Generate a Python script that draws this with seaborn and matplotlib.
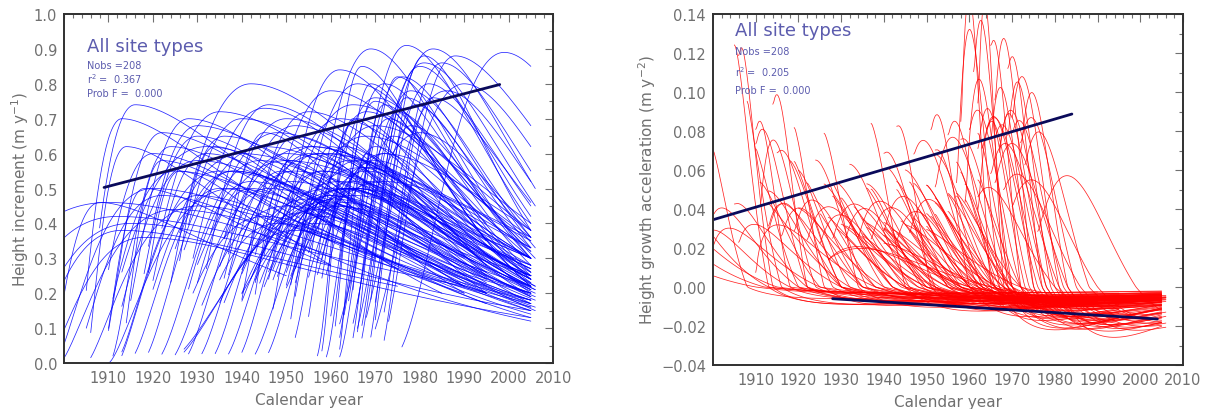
import numpy as np
import pandas as pd
import seaborn as sns
from matplotlib import pyplot as plt
from matplotlib.ticker import MultipleLocator

# per-tree fitted height-increment curves:
# origin year, year and size of the peak, rise shape, first/last drawn year, increment at last year
origin = [1880, 1886, 1890, 1893, 1896, 1897, 1898, 1899,
          1903, 1904, 1905, 1906, 1907, 1908, 1909, 1910, 1911, 1912, 1913, 1914, 1902, 1905, 1910,
          1908, 1912, 1907,
          1913, 1914, 1915, 1917, 1917, 1918, 1919, 1920, 1921, 1922, 1923, 1924, 1925, 1926, 1927,
          1928, 1929, 1930, 1931, 1923, 1922, 1929, 1933, 1915, 1921, 1932,
          1935, 1936, 1938, 1938, 1940, 1941, 1942, 1943, 1944, 1945, 1946, 1947, 1948, 1949, 1950,
          1951, 1952, 1953, 1937, 1942, 1948, 1939,
          1956, 1957, 1958, 1959, 1960, 1960, 1961, 1962, 1962, 1963, 1964, 1965, 1966, 1967, 1968,
          1969, 1970, 1972, 1958, 1963, 1965, 1961, 1957, 1959, 1962, 1964, 1966, 1967, 1961,
          1922, 1925, 1927, 1930, 1932, 1934, 1935, 1937, 1938, 1940, 1942, 1943, 1945, 1947, 1949,
          1951, 1953, 1955, 1928, 1933, 1939, 1944, 1950, 1924, 1931, 1936, 1941, 1946, 1952, 1957,
          1914, 1917, 1920, 1923, 1926, 1929, 1932, 1935, 1938, 1941, 1944, 1911]
peak_year = [1910, 1912, 1915, 1913, 1918, 1908, 1920, 1925,
             1913, 1916, 1914, 1920, 1925, 1922, 1930, 1924, 1928, 1935, 1930, 1940, 1922, 1930, 1938,
             1918, 1922, 1932,
             1930, 1935, 1932, 1942, 1938, 1945, 1936, 1940, 1950, 1945, 1942, 1948, 1955, 1946, 1952,
             1950, 1958, 1952, 1960, 1960, 1965, 1965, 1962, 1926, 1934, 1945,
             1955, 1952, 1960, 1957, 1962, 1958, 1965, 1962, 1968, 1964, 1966, 1970, 1963, 1969, 1968,
             1972, 1966, 1970, 1967, 1972, 1960, 1951,
             1967, 1972, 1970, 1977, 1973, 1976, 1974, 1978, 1983, 1975, 1980, 1978, 1982, 1979, 1985,
             1988, 1983, 1999, 1980, 1986, 1990, 1968, 1965, 1969, 1972, 1975, 1977, 1981, 1981,
             1945, 1950, 1948, 1955, 1953, 1958, 1956, 1960, 1958, 1963, 1962, 1965, 1963, 1968, 1966,
             1970, 1969, 1972, 1952, 1957, 1961, 1966, 1969, 1942, 1949, 1955, 1960, 1964, 1967, 1970,
             1935, 1938, 1944, 1946, 1950, 1951, 1956, 1958, 1960, 1963, 1966, 1930]
peak_inc = [0.46, 0.42, 0.40, 0.38, 0.36, 0.46, 0.50, 0.44,
            0.70, 0.74, 0.62, 0.60, 0.55, 0.66, 0.58, 0.62, 0.70, 0.55, 0.65, 0.60, 0.48, 0.45, 0.50,
            0.50, 0.58, 0.62,
            0.68, 0.72, 0.60, 0.80, 0.55, 0.62, 0.65, 0.70, 0.58, 0.73, 0.52, 0.66, 0.62, 0.74, 0.55,
            0.70, 0.60, 0.68, 0.50, 0.45, 0.50, 0.48, 0.52, 0.55, 0.62, 0.66,
            0.72, 0.65, 0.78, 0.60, 0.70, 0.55, 0.74, 0.84, 0.65, 0.58, 0.80, 0.68, 0.62, 0.90, 0.72,
            0.60, 0.70, 0.76, 0.56, 0.52, 0.62, 0.58,
            0.85, 0.80, 0.75, 0.91, 0.70, 0.82, 0.65, 0.78, 0.90, 0.72, 0.85, 0.68, 0.80, 0.74, 0.86,
            0.88, 0.76, 0.89, 0.66, 0.78, 0.80, 0.60, 0.70, 0.80, 0.74, 0.82, 0.76, 0.88, 0.86,
            0.42, 0.45, 0.40, 0.47, 0.43, 0.46, 0.40, 0.48, 0.42, 0.50, 0.45, 0.52, 0.46, 0.55, 0.50,
            0.58, 0.52, 0.60, 0.38, 0.44, 0.47, 0.50, 0.56, 0.50, 0.55, 0.60, 0.48, 0.50, 0.56, 0.62,
            0.50, 0.55, 0.58, 0.50, 0.60, 0.52, 0.62, 0.55, 0.60, 0.50, 0.58, 0.48]
rise_k = [0.8, 1.0, 1.2, 1.2, 1.5, 1.5, 1.5, 1.5,
          1.5, 1.5, 1.5, 1.5, 1.5, 1.8, 1.5, 2.0, 2.0, 1.5, 1.8, 1.5, 1.5, 1.5, 1.5,
          2.0, 2.0, 1.3,
          1.8, 1.8, 1.8, 2.0, 1.5, 1.5, 2.0, 1.8, 1.5, 1.8, 1.5, 1.6, 1.5, 2.0, 1.5,
          1.8, 1.5, 1.8, 1.3, 2.0, 2.0, 1.8, 1.6, 2.0, 2.2, 2.2,
          1.8, 2.0, 2.0, 1.6, 1.8, 1.6, 1.8, 2.2, 1.6, 1.6, 2.0, 1.8, 2.0, 2.4, 2.0,
          1.6, 2.2, 2.2, 1.6, 1.5, 2.5, 2.5,
          2.5, 2.2, 2.4, 2.6, 2.2, 2.4, 2.2, 2.4, 2.6, 2.4, 2.4, 2.2, 2.4, 2.4, 2.6,
          2.6, 2.4, 2.8, 2.0, 2.4, 2.6, 2.5, 2.5, 2.5, 2.5, 2.5, 2.5, 2.6, 2.5,
          1.5, 1.5, 1.5, 1.5, 1.5, 1.5, 1.5, 1.5, 1.5, 1.5, 1.5, 1.5, 1.6, 1.6, 1.8,
          1.8, 2.0, 2.0, 1.5, 1.5, 1.5, 1.5, 1.8, 1.8, 1.8, 1.8, 1.8, 1.8, 2.0, 2.2,
          2.0, 2.0, 2.0, 2.0, 2.0, 2.0, 2.0, 2.0, 2.0, 2.0, 2.0, 2.0]
first_year = [1900, 1900, 1900, 1900, 1900, 1900, 1900, 1900,
              1905, 1908, 1906, 1910, 1911, 1910, 1913, 1911, 1915, 1913, 1918, 1920, 1905, 1906, 1910,
              1910, 1914, 1913,
              1919, 1922, 1920, 1926, 1925, 1927, 1924, 1928, 1930, 1929, 1928, 1933, 1936, 1932, 1935,
              1936, 1940, 1936, 1940, 1927, 1927, 1940, 1942, 1919, 1926, 1937,
              1941, 1940, 1945, 1943, 1947, 1946, 1950, 1947, 1952, 1950, 1951, 1955, 1952, 1952, 1957,
              1957, 1955, 1958, 1945, 1950, 1951, 1943,
              1957, 1960, 1959, 1963, 1962, 1964, 1962, 1966, 1966, 1965, 1967, 1967, 1970, 1969, 1972,
              1973, 1972, 1976, 1962, 1968, 1970, 1962, 1958, 1961, 1965, 1966, 1969, 1970, 1965,
              1929, 1931, 1935, 1936, 1940, 1940, 1943, 1944, 1946, 1947, 1950, 1950, 1952, 1955, 1955,
              1959, 1959, 1962, 1935, 1940, 1947, 1951, 1957, 1930, 1937, 1943, 1948, 1952, 1958, 1962,
              1916, 1919, 1922, 1925, 1928, 1931, 1934, 1937, 1940, 1943, 1946, 1913]
last_year = [1960, 1990, 2005, 1975, 2005, 1950, 2005, 1995,
             1960, 1975, 1950, 2005, 2005, 1990, 2005, 1995, 2005, 2005, 2005, 2005, 2005, 2005, 2005,
             1960, 1970, 1995,
             1990, 2005, 1995, 1995, 2005, 2005, 2005, 2005, 2005, 2005, 2005, 2005, 2005, 2005, 2005,
             2005, 2005, 2005, 2005, 2005, 2005, 2005, 2005, 1960, 1975, 1990,
             2005, 2005, 2005, 2005, 2005, 2005, 2005, 1995, 2005, 2005, 2005, 2005, 2005, 1995, 2005,
             2005, 2005, 2005, 2005, 2005, 1995, 1990,
             1995, 2005, 2005, 2005, 2005, 2006, 2005, 2005, 2006, 2005, 2005, 2006, 2005, 2005, 2005,
             2005, 2005, 2005, 2005, 2005, 2005, 1995, 1995, 2005, 2005, 2005, 2005, 2005, 2006,
             2005, 2006, 2005, 2006, 2005, 2006, 2005, 2006, 2005, 2006, 2005, 2005, 2006, 2005, 2006,
             2005, 2006, 2005, 1995, 1995, 1995, 1995, 1995, 1985, 1990, 1995, 2006, 2005, 2005, 2005,
             2005, 1995, 2005, 2005, 2005, 2005, 2005, 2005, 2005, 2005, 2005, 1990]
last_inc = [0.31, 0.22, 0.15, 0.22, 0.13, 0.25, 0.18, 0.20,
            0.35, 0.30, 0.35, 0.16, 0.20, 0.25, 0.22, 0.20, 0.18, 0.25, 0.15, 0.28, 0.12, 0.17, 0.20,
            0.28, 0.30, 0.26,
            0.30, 0.25, 0.22, 0.35, 0.18, 0.28, 0.20, 0.25, 0.30, 0.22, 0.17, 0.27, 0.33, 0.24, 0.21,
            0.30, 0.36, 0.26, 0.30, 0.25, 0.30, 0.27, 0.23, 0.28, 0.27, 0.22,
            0.30, 0.22, 0.35, 0.24, 0.32, 0.19, 0.38, 0.40, 0.36, 0.25, 0.33, 0.40, 0.21, 0.45, 0.30,
            0.38, 0.23, 0.32, 0.33, 0.35, 0.20, 0.20,
            0.35, 0.30, 0.22, 0.40, 0.26, 0.33, 0.24, 0.36, 0.50, 0.28, 0.42, 0.30, 0.45, 0.33, 0.55,
            0.68, 0.46, 0.85, 0.38, 0.52, 0.62, 0.25, 0.28, 0.22, 0.25, 0.30, 0.36, 0.38, 0.45,
            0.14, 0.16, 0.13, 0.18, 0.15, 0.19, 0.16, 0.21, 0.17, 0.22, 0.19, 0.24, 0.20, 0.25, 0.21,
            0.26, 0.22, 0.24, 0.17, 0.20, 0.23, 0.26, 0.28, 0.20, 0.22, 0.24, 0.15, 0.17, 0.19, 0.20,
            0.18, 0.24, 0.22, 0.20, 0.27, 0.22, 0.30, 0.24, 0.28, 0.21, 0.30, 0.20]

# regression lines drawn over the curves
inc_fit_year = [1909, 1998]
inc_fit_val = [0.503, 0.798]
acc_fit_hi_year = [1900, 1984]
acc_fit_hi_val = [0.0345, 0.0887]
acc_fit_lo_year = [1928, 2004]
acc_fit_lo_val = [-0.006, -0.0164]

rows = []
for i in range(len(origin)):
    span = peak_year[i] - origin[i]
    yrs = np.arange(first_year[i], last_year[i] + 0.01, 0.25)
    s = (yrs - origin[i]) / span
    g = s * np.exp(1 - s)
    s_end = (last_year[i] - origin[i]) / span
    k_fall = np.log(last_inc[i] / peak_inc[i]) / np.log(s_end * np.exp(1 - s_end))
    k = np.where(s <= 1, rise_k[i], k_fall)
    inc = peak_inc[i] * g ** k
    acc = np.gradient(inc, yrs)
    rows.append(pd.DataFrame({"tree": i, "year": yrs, "inc": inc, "acc": acc}))
df = pd.concat(rows, ignore_index=True)

sns.set_style("white")
plt.rcParams["font.family"] = ["DejaVu Sans"]
grey = "#707070"
txt = "#5c5cae"
navy = "#0a0a5a"

fig = plt.figure(figsize=(12.06, 4.10), dpi=100)
ax1 = fig.add_axes([0.0531, 0.1122, 0.4055, 0.8512])
ax2 = fig.add_axes([0.5912, 0.1073, 0.3897, 0.8561])

sns.lineplot(data=df, x="year", y="inc", units="tree", estimator=None, color="#0000ff",
             lw=0.55, alpha=0.85, ax=ax1, legend=False)
sns.lineplot(x=inc_fit_year, y=inc_fit_val, color=navy, lw=2, ax=ax1)

sns.lineplot(data=df, x="year", y="acc", units="tree", estimator=None, color="#ff0000",
             lw=0.55, alpha=0.85, ax=ax2, legend=False)
sns.lineplot(x=acc_fit_hi_year, y=acc_fit_hi_val, color=navy, lw=2, ax=ax2)
sns.lineplot(x=acc_fit_lo_year, y=acc_fit_lo_val, color=navy, lw=2, ax=ax2)

ax1.set_ylim(0, 1.0)
ax1.yaxis.set_major_locator(MultipleLocator(0.1))
ax1.yaxis.set_minor_locator(MultipleLocator(0.05))
ax1.yaxis.set_major_formatter(plt.FormatStrFormatter("%.1f"))
ax2.set_ylim(-0.04, 0.14)
ax2.yaxis.set_major_locator(MultipleLocator(0.02))
ax2.yaxis.set_minor_locator(MultipleLocator(0.01))
ax2.yaxis.set_major_formatter(plt.FuncFormatter(lambda v, p: f"{v:.2f}".replace("-", "\u2212")))

for ax, yl, xc in [(ax1, "Height increment (m y$^{-1}$)", -0.068),
                   (ax2, "Height growth acceleration (m y$^{-2}$)", -0.118)]:
    ax.set_xlim(1900, 2010)
    ax.xaxis.set_minor_locator(MultipleLocator(2))
    ax.set_xticks(range(1910, 2011, 10))
    ax.tick_params(which="both", direction="in", top=True, right=True, colors=grey,
                   labelcolor=grey, labelsize=10.5, pad=5)
    ax.tick_params(which="major", length=6, width=0.8)
    ax.tick_params(which="minor", length=3, width=0.8)
    for sp in ax.spines.values():
        sp.set_color("#303030")
        sp.set_linewidth(1.4)
    ax.set_xlabel("Calendar year", color=grey, fontsize=11, labelpad=5)
    ax.set_ylabel(yl, color=grey, fontsize=11)
    ax.yaxis.set_label_coords(xc, 0.5)

for ax, r2, ys in [(ax1, "0.367", [0.908, 0.854, 0.817, 0.774]),
                   (ax2, "0.205", [0.954, 0.895, 0.838, 0.783])]:
    ax.text(0.047, ys[0], "All site types", transform=ax.transAxes, color=txt, fontsize=13, va="center")
    ax.text(0.047, ys[1], "Nobs =208", transform=ax.transAxes, color=txt, fontsize=7, va="center")
    ax.text(0.047, ys[2], "r$^2$ =  " + r2, transform=ax.transAxes, color=txt, fontsize=7, va="center")
    ax.text(0.047, ys[3], "Prob F =  0.000", transform=ax.transAxes, color=txt, fontsize=7, va="center")

plt.savefig("out.png", dpi=100)
